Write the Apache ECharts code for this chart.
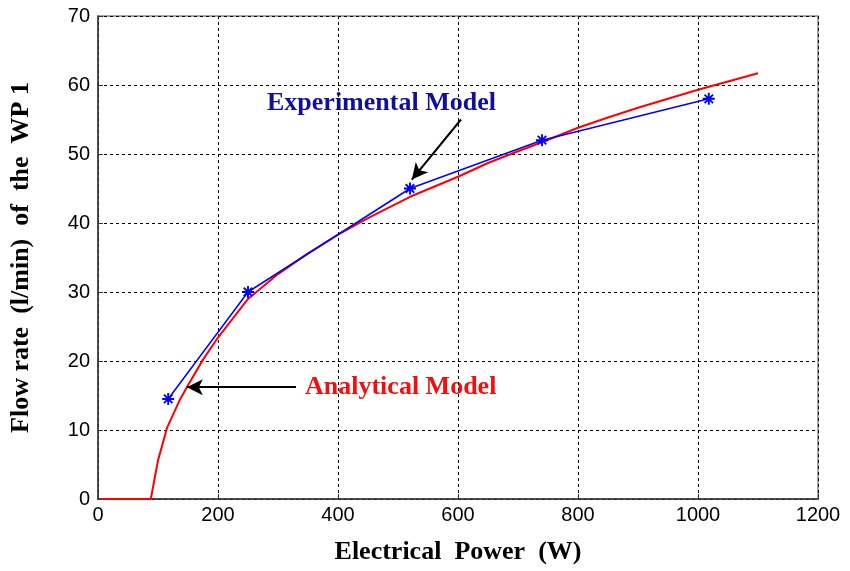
<!DOCTYPE html>
<html>
<head>
<meta charset="utf-8">
<script src="https://cdn.jsdelivr.net/npm/echarts@6/dist/echarts.min.js"></script>
<style>
html, body { margin: 0; padding: 0; background: #fff; }
#main { width: 850px; height: 571px; }
</style>
</head>
<body>
<div id="main"></div>
<script>
// experimental measurements (power W, flow l/min)
var expPower = [117, 250, 520, 740, 1018];
var expFlow = [14.5, 30, 45, 52, 58];

// analytical model curve
var anaPower = [5, 88, 100, 115, 136, 150, 175, 200, 250, 300, 350, 400, 450, 520, 600, 650, 700, 740, 800, 850, 900, 950, 1000, 1050, 1100];
var anaFlow = [0, 0, 5.6, 10.3, 14.3, 16.5, 20.2, 23.4, 29, 32.6, 35.6, 38.3, 40.7, 43.8, 46.7, 48.7, 50.4, 51.7, 53.8, 55.3, 56.7, 58, 59.3, 60.5, 61.7];

var xTicks = [0, 200, 400, 600, 800, 1000, 1200];
var yTicks = [0, 10, 20, 30, 40, 50, 60, 70];

function pairs(xs, ys) {
    return xs.map(function (x, i) { return [x, ys[i]]; });
}

var asterisk = 'path://M4.2 0h1.6v10h-1.6z M0 4.2h10v1.6h-10z M0.9 2L2 0.9L9.1 8L8 9.1z M8 0.9L9.1 2L2 9.1L0.9 8z';

var chart = echarts.init(document.getElementById('main'));

var option = {
    animation: false,
    grid: { left: 98, right: 32, top: 16, bottom: 72 },
    xAxis: {
        type: 'value',
        min: xTicks[0], max: xTicks[xTicks.length - 1], interval: 200,
        name: 'Electrical  Power  (W)',
        nameLocation: 'middle',
        nameGap: 40,
        nameTextStyle: { fontFamily: 'Liberation Serif', fontWeight: 'bold', fontSize: 26, color: '#000' },
        axisLine: { lineStyle: { color: '#333', width: 1.5 } },
        axisTick: { inside: true, length: 5, lineStyle: { color: '#333' } },
        axisLabel: { fontFamily: 'Liberation Sans', fontSize: 20, color: '#000', margin: 6, formatter: function (v) { return String(v); } },
        splitLine: { show: true, lineStyle: { color: '#000', type: [3, 3], width: 1 } }
    },
    yAxis: {
        type: 'value',
        min: yTicks[0], max: yTicks[yTicks.length - 1], interval: 10,
        name: 'Flow rate  (l/min)  of  the  WP 1',
        nameLocation: 'middle',
        nameGap: 64,
        nameTextStyle: { fontFamily: 'Liberation Serif', fontWeight: 'bold', fontSize: 26, color: '#000' },
        axisLine: { lineStyle: { color: '#333', width: 1.5 } },
        axisTick: { inside: true, length: 5, lineStyle: { color: '#333' } },
        axisLabel: { fontFamily: 'Liberation Sans', fontSize: 20, color: '#000', margin: 8 },
        splitLine: { show: true, lineStyle: { color: '#000', type: [3, 3], width: 1 } }
    },
    graphic: [
        { type: 'rect', shape: { x: 98, y: 16, width: 720, height: 483 }, style: { fill: 'none', stroke: '#888', lineWidth: 1.5 }, z: 0 },
        { type: 'text', left: 267, top: 90, style: { text: 'Experimental Model', fill: '#1010a0', font: 'bold 26px "Liberation Serif"' } },
        { type: 'text', left: 305, top: 374, style: { text: 'Analytical Model', fill: '#f01010', font: 'bold 26px "Liberation Serif"' } }
    ],
    series: [
        {
            name: 'Analytical',
            type: 'line',
            data: pairs(anaPower, anaFlow),
            showSymbol: false,
            lineStyle: { color: '#ff0000', width: 2 },
            z: 3,
            markLine: {
                silent: true,
                symbol: ['none', 'arrow'],
                symbolSize: [12, 16],
                label: { show: false },
                lineStyle: { color: '#000', width: 2, type: 'solid' },
                data: [
                    [{ coord: [330, 16.2] }, { coord: [148, 16.2] }],
                    [{ coord: [605, 55] }, { coord: [523, 46.3] }]
                ]
            }
        },
        {
            name: 'Experimental',
            type: 'line',
            data: pairs(expPower, expFlow),
            symbol: asterisk,
            symbolSize: 12,
            itemStyle: { color: '#0000ff' },
            lineStyle: { color: '#0000ff', width: 1.5 },
            z: 4
        }
    ]
};

chart.setOption(option);
</script>
</body>
</html>
